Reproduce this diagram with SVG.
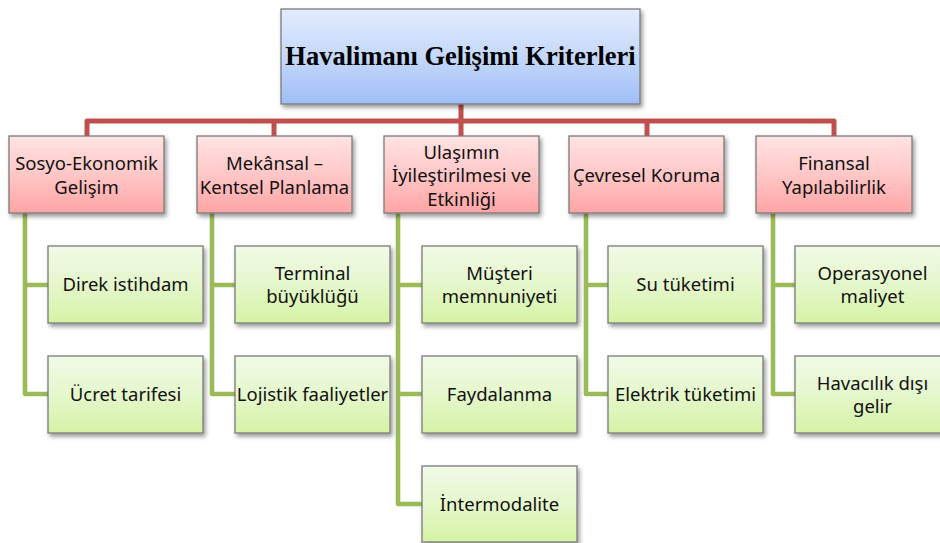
<svg xmlns="http://www.w3.org/2000/svg" width="940" height="543" viewBox="0 0 940 543">
<defs>
<linearGradient id="gBlue" x1="0" y1="0" x2="0" y2="1">
<stop offset="0" stop-color="#e2ecfd"/><stop offset="0.5" stop-color="#c5d8fa"/><stop offset="1" stop-color="#9fbef6"/>
</linearGradient>
<linearGradient id="gRed" x1="0" y1="0" x2="0" y2="1">
<stop offset="0" stop-color="#ffe3e3"/><stop offset="0.5" stop-color="#ffc7c7"/><stop offset="1" stop-color="#ffa4a4"/>
</linearGradient>
<linearGradient id="gGreen" x1="0" y1="0" x2="0" y2="1">
<stop offset="0" stop-color="#f1fae6"/><stop offset="0.5" stop-color="#e5f7cc"/><stop offset="1" stop-color="#d5f3a5"/>
</linearGradient>
<filter id="sh" x="-10%" y="-10%" width="130%" height="140%">
<feDropShadow dx="2" dy="3" stdDeviation="2" flood-color="#000" flood-opacity="0.4"/>
</filter>
</defs>
<style>
.box{stroke:#7a7a7a;stroke-width:1.3;filter:url(#sh)}
.top{fill:url(#gBlue)}
.l1{fill:url(#gRed)}
.l2{fill:url(#gGreen)}
.t{font-family:"Noto Sans","Open Sans",sans-serif;font-size:18.5px;fill:#111;text-anchor:middle}
.title{font-family:"Liberation Serif","Times New Roman",serif;font-weight:bold;font-size:26.5px;fill:#000;text-anchor:middle}
.red{fill:none;stroke:#c0504d;stroke-width:5;stroke-linejoin:round}
.grn{fill:none;stroke:#9bbb59;stroke-width:4.6;stroke-linejoin:round}
</style>
<rect width="940" height="543" fill="#fff"/>
<g id="connectors">
<path class="red" d="M461,104 V121 M87,136 V121 H834 V136 M274,121 V136 M461,121 V136 M647,121 V136"/>
<path class="grn" d="M25,213 V394 H48 M25,285 H48"/>
<path class="grn" d="M212,213 V394 H235 M212,285 H235"/>
<path class="grn" d="M398,213 V504 H422 M398,285 H422 M398,394 H422"/>
<path class="grn" d="M586,213 V394 H608 M586,285 H608"/>
<path class="grn" d="M773,213 V394 H795 M773,285 H795"/>
</g>
<g id="root">
<rect class="box top" x="281" y="9" width="359" height="95"/>
<text class="title" x="460.5" y="65">Havalimanı Gelişimi Kriterleri</text>
</g>
<g id="n1">
<rect class="box l1" x="9" y="136" width="155" height="77"/>
<text class="t" x="86.5" y="170">Sosyo-Ekonomik</text>
<text class="t" x="86.5" y="193.5">Gelişim</text>
</g>
<g id="n2">
<rect class="box l1" x="197" y="136" width="155" height="77"/>
<text class="t" x="274.5" y="170">Mekânsal –</text>
<text class="t" x="274.5" y="193.5">Kentsel Planlama</text>
</g>
<g id="n3">
<rect class="box l1" x="384" y="136" width="155" height="77"/>
<text class="t" x="461.5" y="158.5">Ulaşımın</text>
<text class="t" x="461.5" y="182">İyileştirilmesi ve</text>
<text class="t" x="461.5" y="205.5">Etkinliği</text>
</g>
<g id="n4">
<rect class="box l1" x="569" y="136" width="155" height="77"/>
<text class="t" x="646.5" y="182">Çevresel Koruma</text>
</g>
<g id="n5">
<rect class="box l1" x="756" y="136" width="156" height="77"/>
<text class="t" x="834" y="170">Finansal</text>
<text class="t" x="834" y="193.5">Yapılabilirlik</text>
</g>
<g id="n1a">
<rect class="box l2" x="48" y="246" width="155" height="77"/>
<text class="t" x="125.5" y="291">Direk istihdam</text>
</g>
<g id="n1b">
<rect class="box l2" x="48" y="356" width="155" height="77"/>
<text class="t" x="125.5" y="401">Ücret tarifesi</text>
</g>
<g id="n2a">
<rect class="box l2" x="235" y="246" width="155" height="77"/>
<text class="t" x="312.5" y="280">Terminal</text>
<text class="t" x="312.5" y="303">büyüklüğü</text>
</g>
<g id="n2b">
<rect class="box l2" x="235" y="356" width="155" height="77"/>
<text class="t" x="312.5" y="401">Lojistik faaliyetler</text>
</g>
<g id="n3a">
<rect class="box l2" x="422" y="246" width="155" height="77"/>
<text class="t" x="499.5" y="280">Müşteri</text>
<text class="t" x="499.5" y="303">memnuniyeti</text>
</g>
<g id="n3b">
<rect class="box l2" x="422" y="356" width="155" height="77"/>
<text class="t" x="499.5" y="401">Faydalanma</text>
</g>
<g id="n3c">
<rect class="box l2" x="422" y="466" width="155" height="76"/>
<text class="t" x="499.5" y="511">İntermodalite</text>
</g>
<g id="n4a">
<rect class="box l2" x="608" y="246" width="155" height="77"/>
<text class="t" x="685.5" y="291">Su tüketimi</text>
</g>
<g id="n4b">
<rect class="box l2" x="608" y="356" width="155" height="77"/>
<text class="t" x="685.5" y="401">Elektrik tüketimi</text>
</g>
<g id="n5a">
<rect class="box l2" x="795" y="246" width="155" height="77"/>
<text class="t" x="872.5" y="280">Operasyonel</text>
<text class="t" x="872.5" y="303">maliyet</text>
</g>
<g id="n5b">
<rect class="box l2" x="795" y="356" width="155" height="77"/>
<text class="t" x="872.5" y="390">Havacılık dışı</text>
<text class="t" x="872.5" y="413">gelir</text>
</g>
</svg>
